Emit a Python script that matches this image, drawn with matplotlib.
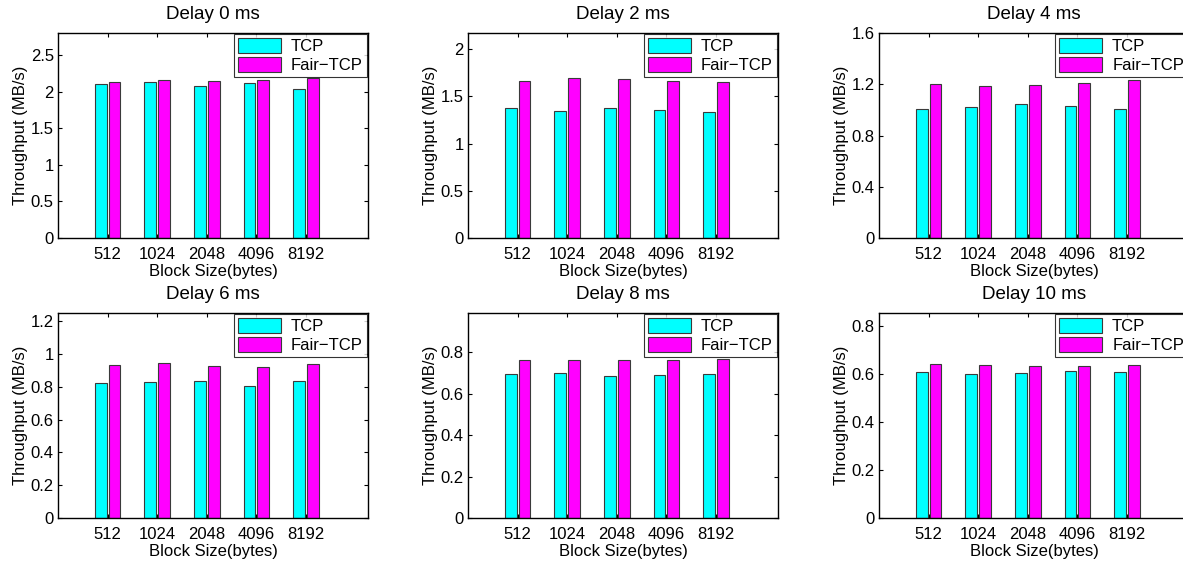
import matplotlib
matplotlib.use("Agg")
import matplotlib.pyplot as plt
import numpy as np

plt.rcParams['font.family'] = ['Liberation Sans', 'DejaVu Sans']

block_sizes = ["512", "1024", "2048", "4096", "8192"]
delays = ["Delay 0 ms", "Delay 2 ms", "Delay 4 ms", "Delay 6 ms", "Delay 8 ms", "Delay 10 ms"]

tcp_d0 = [2.10, 2.126, 2.07, 2.117, 2.03]
fair_d0 = [2.126, 2.153, 2.144, 2.153, 2.19]
tcp_d2 = [1.371, 1.343, 1.378, 1.35, 1.332]
fair_d2 = [1.664, 1.689, 1.678, 1.661, 1.647]
tcp_d4 = [1.010, 1.023, 1.042, 1.029, 1.010]
fair_d4 = [1.201, 1.183, 1.193, 1.209, 1.232]
tcp_d6 = [0.821, 0.827, 0.833, 0.803, 0.833]
fair_d6 = [0.931, 0.945, 0.929, 0.919, 0.939]
tcp_d8 = [0.697, 0.698, 0.685, 0.689, 0.694]
fair_d8 = [0.763, 0.761, 0.763, 0.763, 0.768]
tcp_d10 = [0.606, 0.598, 0.603, 0.612, 0.606]
fair_d10 = [0.639, 0.638, 0.634, 0.633, 0.637]

tcp_all = [tcp_d0, tcp_d2, tcp_d4, tcp_d6, tcp_d8, tcp_d10]
fair_all = [fair_d0, fair_d2, fair_d4, fair_d6, fair_d8, fair_d10]

ylims = [2.8, 2.17, 1.6, 1.25, 0.99, 0.853]
yticks = [
    [0, 0.5, 1, 1.5, 2, 2.5],
    [0, 0.5, 1, 1.5, 2],
    [0, 0.4, 0.8, 1.2, 1.6],
    [0, 0.2, 0.4, 0.6, 0.8, 1, 1.2],
    [0, 0.2, 0.4, 0.6, 0.8],
    [0, 0.2, 0.4, 0.6, 0.8],
]

W, H = 1183, 565
fig = plt.figure(figsize=(W / 100, H / 100), dpi=100)

lefts = [58, 468, 879]
tops = [33, 313]
aw, ah = 310, 205

x = np.arange(1, 6)
bw = 0.24
off = 0.14
fs = 12

for i in range(6):
    r, c = divmod(i, 3)
    ax = fig.add_axes([lefts[c] / W, 1 - (tops[r] + ah) / H, aw / W, ah / H])
    ax.bar(x - off, tcp_all[i], width=bw, color=(0, 1, 1), edgecolor='#3a3a3a', linewidth=0.8, label='TCP')
    ax.bar(x + off, fair_all[i], width=bw, color=(1, 0, 1), edgecolor='#3a3a3a', linewidth=0.8, label='Fair\u2212TCP')
    ax.set_xlim(0, 6.25)
    ax.set_ylim(0, ylims[i])
    ax.set_xticks(x)
    ax.set_xticklabels(block_sizes)
    ax.set_yticks(yticks[i])
    ax.set_yticklabels([("%g" % v) for v in yticks[i]])
    ax.tick_params(direction='in', top=True, right=True, labelsize=fs, length=3, width=0.8)
    ax.tick_params(axis='x', pad=6.5)
    ax.tick_params(axis='y', pad=3)
    for s in ax.spines.values():
        s.set_linewidth(1.0)
    ax.set_title(delays[i], fontsize=13.5, pad=10)
    ax.set_xlabel("Block Size(bytes)", fontsize=fs, labelpad=1.5)
    ax.set_ylabel("Throughput (MB/s)", fontsize=fs, labelpad=2)
    leg = ax.legend(loc='upper right', fontsize=fs, frameon=True, fancybox=False,
                    edgecolor='black', borderaxespad=0.05, handlelength=2.6, handleheight=1.0,
                    borderpad=0.25, labelspacing=0.15, handletextpad=0.6)
    leg.get_frame().set_linewidth(0.8)

fig.savefig("out.png", dpi=100)
